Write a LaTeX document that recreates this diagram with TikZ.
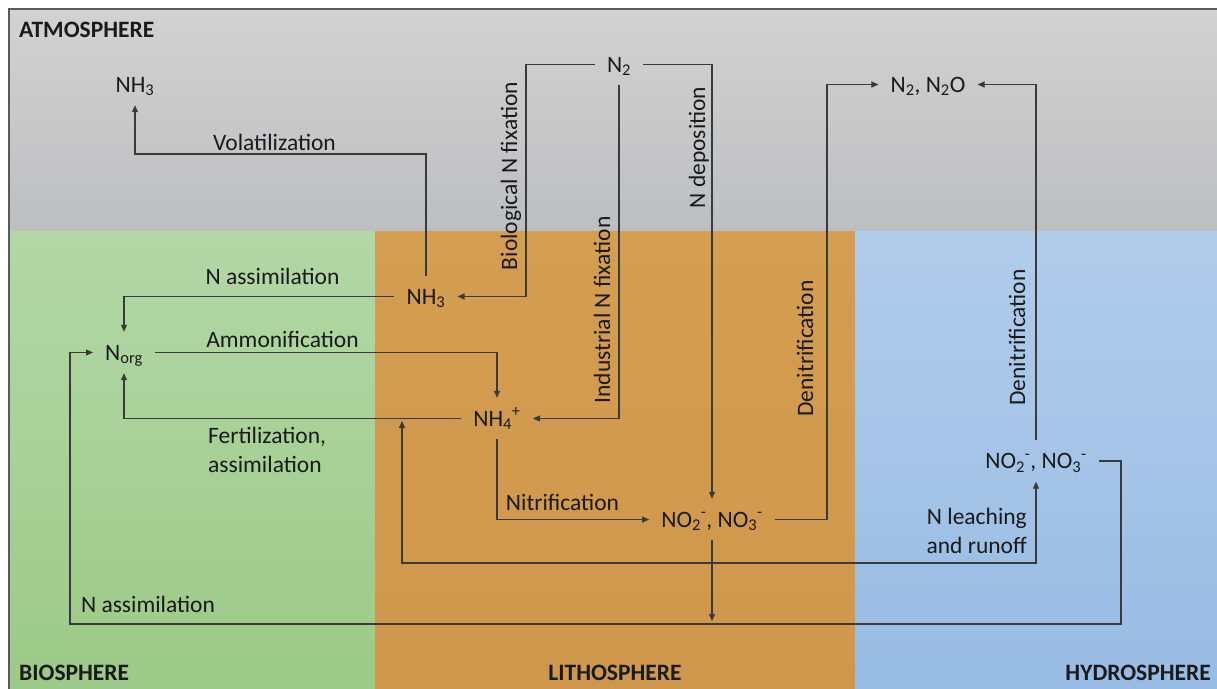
\documentclass[tikz,border=0pt]{standalone}
\usepackage{fontspec}
\setmainfont{Carlito}
\usetikzlibrary{arrows.meta}
\definecolor{framec}{HTML}{5A5A5A}
\definecolor{atmA}{HTML}{D2D2D2}
\definecolor{atmB}{HTML}{BDBEC0}
\definecolor{bioA}{HTML}{B3D7A6}
\definecolor{bioB}{HTML}{9BC986}
\definecolor{litA}{HTML}{D39D52}
\definecolor{litB}{HTML}{CF974B}
\definecolor{hydA}{HTML}{B1CCEB}
\definecolor{hydB}{HTML}{97BBE3}
\definecolor{txt}{HTML}{1A1A1A}
\definecolor{linec}{HTML}{3A3A3A}
\newcommand\ionsub[2]{\textsubscript{#1}\textsuperscript{#2}}
\begin{document}
\begin{tikzpicture}[x=1pt,y=-1pt,
  every node/.style={font=\fontsize{23.5}{29}\selectfont, text=txt},
  chem/.style={inner xsep=12pt, inner ysep=13pt, text height=15pt, text depth=0pt},
  lbl/.style={inner sep=0pt, anchor=base},
  vlbl/.style={inner sep=0pt, anchor=base, rotate=90},
  zone/.style={font=\fontsize{23.5}{29}\selectfont\bfseries, inner sep=0pt},
  arr/.style={draw=linec, line width=1.1pt, -{Triangle[length=7pt,width=6pt]}}]
\useasboundingbox (0,0) rectangle (1217,688);
\clip (0,0) rectangle (1217,688);
% backgrounds
\fill[framec] (8,8) rectangle (1240,710);
\shade[top color=atmA, bottom color=atmB] (10,10) rectangle (1240,231);
\shade[top color=bioA, bottom color=bioB] (10,231) rectangle (375,710);
\shade[top color=litA, bottom color=litB] (375,231) rectangle (855,710);
\shade[top color=hydA, bottom color=hydB] (855,231) rectangle (1240,710);
% zone labels
\node[zone, anchor=base west] (zatm) at (19,37) {ATMOSPHERE};
\node[zone, anchor=base west] (zbio) at (19,680) {BIOSPHERE};
\node[zone, anchor=base] (zlit) at (615,680) {LITHOSPHERE};
\node[zone, anchor=base east] (zhyd) at (1211,680) {HYDROSPHERE};
% chemical nodes
\node[chem] (nh3a) at (135,84.5) {NH\textsubscript{3}};
\node[chem] (n2) at (619,64.5) {N\textsubscript{2}};
\node[chem] (n2o) at (928,84.5) {N\textsubscript{2}, N\textsubscript{2}O};
\node[chem] (nh3l) at (426,296.5) {NH\textsubscript{3}};
\node[chem] (norg) at (124,352.5) {N\textsubscript{org}};
\node[chem] (nh4) at (497,418.5) {NH\ionsub{4}{+}};
\node[chem] (no3l) at (712,519.5) {NO\ionsub{2}{-}, NO\ionsub{3}{-}};
\node[chem] (no3h) at (1036,461) {NO\ionsub{2}{-}, NO\ionsub{3}{-}};
% helper coordinates
\coordinate (yvol) at (0,154);
\coordinate (xbio) at (526,0);
\coordinate (xden) at (827,0);
\coordinate (jl) at (712,563);
\coordinate (fert) at (402,421);
\coordinate (asst) at (712,621);
\coordinate (ab1) at (1121,624);
\coordinate (ab2) at (70,624);
% connectors
\draw[arr] (nh3l.north) |- (nh3a.south |- yvol) -- (nh3a.south);
\draw[arr] (n2.west) -| (xbio |- nh3l.east) -- (nh3l.east);
\draw[arr] (n2.south) |- (nh4.east);
\draw[arr] (n2.east) -| (no3l.north);
\draw[arr] (no3l.east) -| (xden |- n2o.west) -- (n2o.west);
\draw[arr] (no3h.north) |- (n2o.east);
\draw[arr] (nh3l.west) -| (norg.north);
\draw[arr] (norg.east) -| (nh4.north);
\draw[arr] (nh4.west) -| (norg.south);
\draw[arr] (nh4.south) |- (no3l.west);
\draw[arr] (no3l.south) -- (asst);
\draw[arr] (jl) -| (fert);
\draw[arr] (jl) -| (no3h.south);
\draw[arr] (no3h.east) -| (ab1) -- (ab2) |- (norg.west);
% labels
\node[lbl] (lvol) at (274.5,150) {Volatilization};
\node[lbl] (lass1) at (272.5,284) {N assimilation};
\node[lbl] (lamm) at (282.5,347) {Ammonification};
\node[lbl, anchor=base west, align=left] (lfert) at (208,472) {Fertilization,\\assimilation};
\node[lbl] (lnit) at (562.5,510) {Nitrification};
\node[lbl, anchor=base east, align=right] (lleach) at (1027,553) {N leaching\\and runoff};
\node[lbl] (lass2) at (148,612) {N assimilation};
\node[vlbl] (lbio) at (517,176) {Biological N fixation};
\node[vlbl] (lind) at (610,310) {Industrial N fixation};
\node[vlbl] (ldep) at (705,147.5) {N deposition};
\node[vlbl] (lden1) at (813,348.5) {Denitrification};
\node[vlbl] (lden2) at (1025,337.5) {Denitrification};
\end{tikzpicture}
\end{document}
